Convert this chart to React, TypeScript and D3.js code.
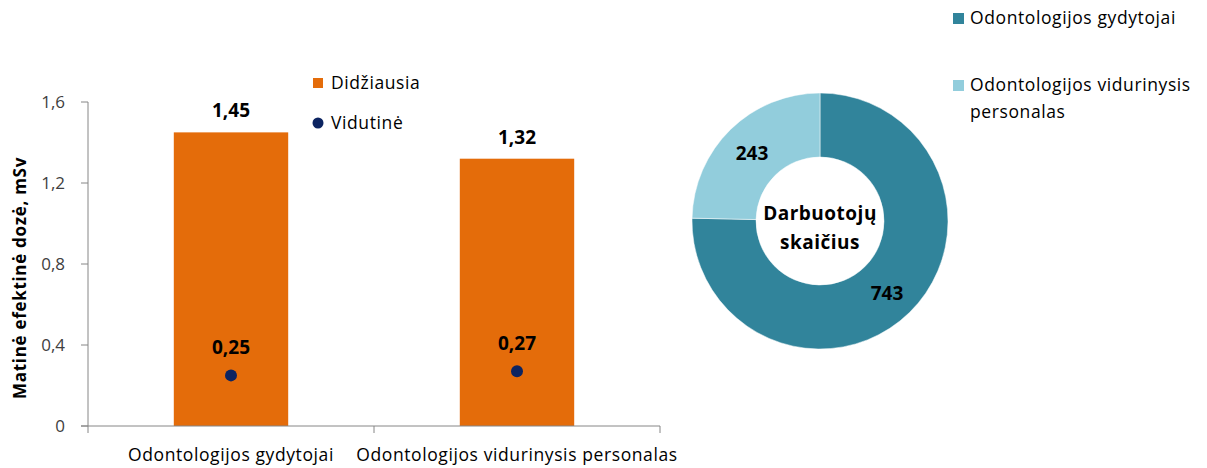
import React from "react";
import * as d3 from "d3";

const categories = ["Odontologijos gydytojai", "Odontologijos vidurinysis personalas"];
const maxDose = [1.45, 1.32];
const avgDose = [0.25, 0.27];
const yTicks = [0, 0.4, 0.8, 1.2, 1.6];
const donutLabels = ["Odontologijos gydytojai", "Odontologijos vidurinysis personalas"];
const donutValues = [743, 243];

const FONT = "'Open Sans', Lato, sans-serif";
const fmt = (v: number) => (v === 0 ? "0" : d3.format(".1f")(v).replace(".", ","));
const fmt2 = (v: number) => d3.format(".2f")(v).replace(".", ",");

export default function App() {
  const W = 1207, H = 468;
  const x0 = 88, x1 = 660, yTop = 102, yBot = 426;
  const x = d3.scaleBand().domain(categories).range([x0, x1]).paddingInner(0.6).paddingOuter(0.3);
  const xb = d3.scaleBand().domain(categories).range([x0, x1]);
  const y = d3.scaleLinear().domain([0, 1.6]).range([yBot, yTop]);

  const cx = 820, cy = 221, rO = 128, rI = 64;
  const pie = d3.pie<number>().sort(null).value((d) => d)(donutValues);
  const arc = d3.arc<d3.PieArcDatum<number>>().innerRadius(rI).outerRadius(rO);
  const donutColors = ["#31849b", "#92cddc"];
  const labelPos: [number, number][] = [[887 - cx, 293 - cy], [752 - cx, 153 - cy]];

  const axisColor = "#868686";
  const textColor = "#404040";
  const fs = 17.5;
  const ls = 0.6;

  return (
    <svg width={W} height={H} style={{ position: "absolute", left: 0, top: 0 }} fontFamily={FONT}>
      <rect width={W} height={H} fill="#fff" />
      {/* Bars */}
      {categories.map((c, i) => (
        <rect key={c} x={x(c)!} y={y(maxDose[i])} width={x.bandwidth()} height={yBot - y(maxDose[i])} fill="#e46c0a" />
      ))}
      {/* Axes */}
      <line x1={x0} x2={x0} y1={yTop} y2={yBot} stroke={axisColor} />
      <line x1={81} x2={x1} y1={yBot} y2={yBot} stroke={axisColor} />
      {yTicks.map((t) => (
        <g key={t}>
          <line x1={81} x2={x0} y1={y(t)} y2={y(t)} stroke={axisColor} />
          <text x={65} y={y(t)} dy="0.35em" textAnchor="end" fontSize={17} fill={textColor}>{fmt(t)}</text>
        </g>
      ))}
      {[...categories.map((c) => xb(c)! + xb.bandwidth()), x0].map((v, i) => (
        <line key={i} x1={v} x2={v} y1={yBot} y2={yBot + 7} stroke={axisColor} />
      ))}
      {categories.map((c) => (
        <text key={c} x={xb(c)! + xb.bandwidth() / 2} y={461} textAnchor="middle" fontSize={fs} letterSpacing={ls} fill="#000">{c}</text>
      ))}
      {/* Value labels */}
      {categories.map((c, i) => (
        <text key={c} x={x(c)! + x.bandwidth() / 2} y={y(maxDose[i]) - 15} textAnchor="middle" fontSize={19} fontWeight="bold" fill="#000">{fmt2(maxDose[i])}</text>
      ))}
      {categories.map((c, i) => (
        <g key={c}>
          <circle cx={x(c)! + x.bandwidth() / 2} cy={y(avgDose[i])} r={6} fill="#0c2461" />
          <text x={x(c)! + x.bandwidth() / 2} y={y(avgDose[i]) - 21} textAnchor="middle" fontSize={19} fontWeight="bold" fill="#000">{fmt2(avgDose[i])}</text>
        </g>
      ))}
      {/* Y title */}
      <text transform={`translate(26,${278}) rotate(-90)`} textAnchor="middle" fontSize={17} letterSpacing={0.7} fontWeight="bold" fill="#000">Matinė efektinė dozė, mSv</text>
      {/* Bar legend */}
      <rect x={313} y={78} width={10} height={10} fill="#e46c0a" />
      <text x={331} y={83} dy="0.35em" fontSize={fs} letterSpacing={ls} fill="#000">Didžiausia</text>
      <circle cx={318} cy={123} r={5.5} fill="#0c2461" />
      <text x={331} y={123} dy="0.35em" fontSize={fs} letterSpacing={ls} fill="#000">Vidutinė</text>
      {/* Donut */}
      <g transform={`translate(${cx},${cy})`}>
        {pie.map((p, i) => (
          <path key={i} d={arc(p)!} fill={donutColors[i]} stroke="#fff" strokeWidth={0.5} />
        ))}
        {pie.map((p, i) => (
          <text key={"l" + i} x={labelPos[i][0]} y={labelPos[i][1]} dy="0.35em" textAnchor="middle" fontSize={19} fontWeight="bold" fill="#000">{p.data}</text>
        ))}
        <text x={0} y={-8} dy="0.35em" textAnchor="middle" fontSize={19} letterSpacing={0.5} fontWeight="bold" fill="#000">Darbuotojų</text>
        <text x={0} y={21} dy="0.35em" textAnchor="middle" fontSize={19} letterSpacing={0.5} fontWeight="bold" fill="#000">skaičius</text>
      </g>
      {/* Donut legend */}
      <rect x={953} y={13} width={11} height={11} fill={donutColors[0]} />
      <text x={970} y={18} dy="0.35em" fontSize={fs} letterSpacing={ls} fill="#000">{donutLabels[0]}</text>
      <rect x={953} y={80} width={11} height={11} fill={donutColors[1]} />
      <text x={970} y={85} dy="0.35em" fontSize={fs} letterSpacing={ls} fill="#000">Odontologijos vidurinysis</text>
      <text x={970} y={112} dy="0.35em" fontSize={fs} letterSpacing={ls} fill="#000">personalas</text>
    </svg>
  );
}
